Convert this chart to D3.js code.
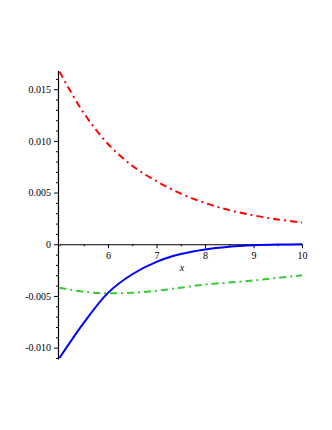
<!DOCTYPE html>
<html>
<head>
<meta charset="utf-8">
<script src="https://cdn.jsdelivr.net/npm/d3@7"></script>
<style>
  body { margin: 0; background: #fff; }
  svg { display: block; }
  .axis line, .axis path { stroke: #000; }
</style>
</head>
<body>
<svg id="svg" width="332" height="430"></svg>
<script>
// values, x from 5 to 10 in steps of 0.5
const xs = [5, 5.5, 6, 6.5, 7, 7.5, 8, 8.5, 9, 9.5, 10]
const redVals = [0.0167, 0.0127, 0.0097, 0.0076, 0.0061, 0.0049, 0.0040, 0.0033, 0.0028, 0.0024, 0.0021]
const blueVals = [-0.0110, -0.0076, -0.0047, -0.0029, -0.0017, -0.00095, -0.0005, -0.00024, -0.0001, -0.00003, 0]
const greenVals = [-0.0042, -0.0046, -0.00474, -0.0047, -0.0045, -0.0042, -0.0039, -0.0037, -0.0035, -0.00325, -0.0030]

const xTicks = [6, 7, 8, 9, 10]
const xMinor = [5, 5.5, 6.5, 7.5, 8.5, 9.5]
const yTicks = [-0.010, -0.005, 0, 0.005, 0.010, 0.015]
const yMinor = d3.range(-11, 17).map(d => d / 1000).filter(d => !yTicks.some(t => Math.abs(t - d) < 1e-9))

const svg = d3.select('#svg')

const x = d3.scaleLinear().domain([5, 10]).range([59.5, 302])
const y = d3.scaleLinear().domain([-0.0111, 0.0168]).range([359, 70.6])

// axes cross at y = 0 and x = 5
const xAxisG = svg.append('g').attr('class', 'axis').attr('transform', `translate(0,${y(0)})`)
xAxisG.call(d3.axisBottom(x).tickValues(xMinor).tickSize(2).tickSizeOuter(0).tickFormat(''))
xAxisG.append('g').call(d3.axisBottom(x).tickValues(xTicks).tickSize(4).tickSizeOuter(0).tickPadding(4).tickFormat(d3.format('d')))
xAxisG.selectAll('g > g > path').remove()

const yAxisG = svg.append('g').attr('class', 'axis').attr('transform', `translate(${x(5) - 1.5},0)`)
yAxisG.call(d3.axisLeft(y).tickValues(yMinor).tickSize(2).tickSizeOuter(0).tickFormat(''))
yAxisG.append('g').call(d3.axisLeft(y).tickValues(yTicks).tickSize(4).tickSizeOuter(0).tickPadding(3)
  .tickFormat(d => d === 0 ? '0' : d3.format('.3f')(d).replace('\u2212', '-')))
yAxisG.selectAll('g > g > path').remove()

svg.selectAll('.axis path.domain').attr('stroke-width', 1.2)
svg.selectAll('.axis text')
  .attr('font-family', null)
  .style('font-family', '"Liberation Serif", "Times New Roman", serif')
  .style('font-size', '10px')
  .attr('fill', '#000')

svg.append('text')
  .attr('x', 182).attr('y', 271)
  .attr('text-anchor', 'middle')
  .style('font-family', '"Liberation Serif", serif')
  .style('font-size', '10px')
  .style('font-style', 'italic')
  .text('x')

const line = vals => d3.line()
  .x((d, i) => x(xs[i]))
  .y(d => y(d))
  .curve(d3.curveCatmullRom.alpha(0.5))(vals)

svg.append('path').attr('d', line(redVals))
  .attr('fill', 'none').attr('stroke', '#ff0000').attr('stroke-width', 2)
  .attr('stroke-dasharray', '7,4,2,4')

svg.append('path').attr('d', line(greenVals))
  .attr('fill', 'none').attr('stroke', '#33cc33').attr('stroke-width', 2)
  .attr('stroke-dasharray', '7,4,2,4')

svg.append('path').attr('d', line(blueVals))
  .attr('fill', 'none').attr('stroke', '#0000ff').attr('stroke-width', 2)
</script>
</body>
</html>
